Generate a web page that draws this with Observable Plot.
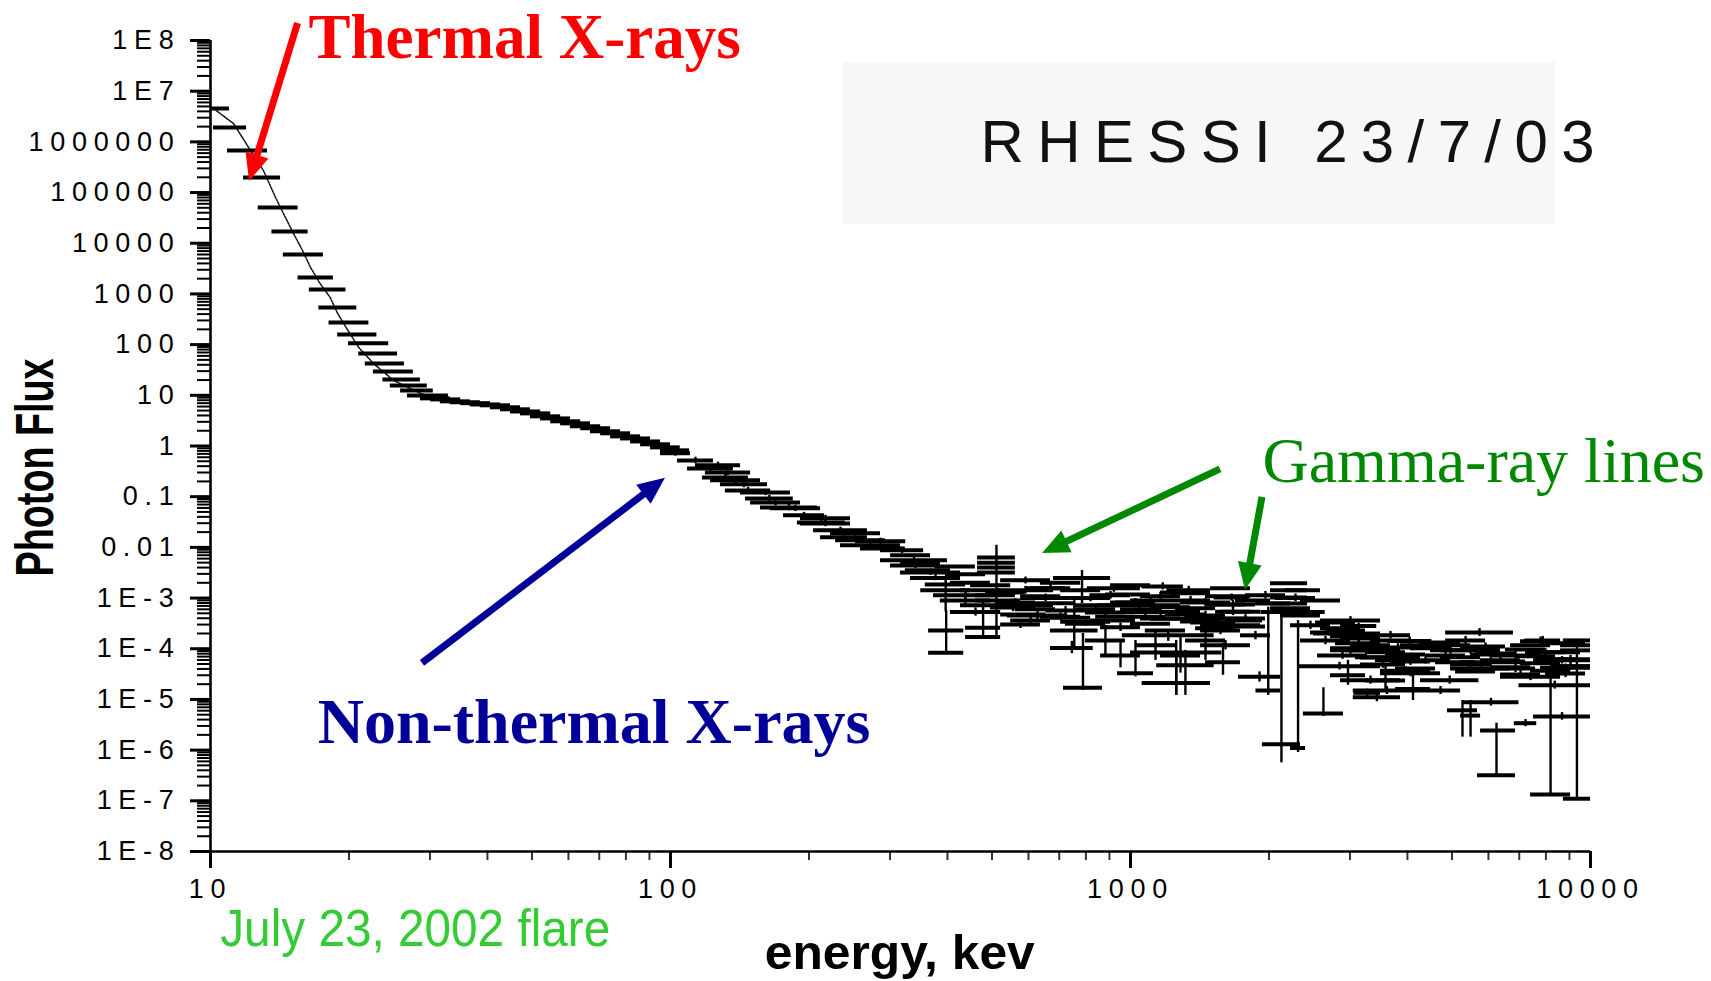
<!DOCTYPE html>
<html>
<head>
<meta charset="utf-8">
<script src="https://cdn.jsdelivr.net/npm/d3@7"></script>
<script src="https://cdn.jsdelivr.net/npm/@observablehq/plot@0.6"></script>
<style>
  html, body { margin: 0; padding: 0; background: #ffffff; }
  svg { display: block; }
</style>
</head>
<body>
<script>
// ---------------- DATA (energy in keV, photon flux) ----------------
// rows: [binLow, binHigh, flux, errLow, errHigh]
const thermalBins = [
  [10.0, 11.0, 4.56e6], [10.15, 11.98, 1.92e6], [10.89, 13.3, 6.76e5], [11.8, 14.2, 1.99e5],
  [12.7, 15.5, 5.08e4], [13.6, 16.3, 1.71e4], [14.4, 17.6, 6.0e3], [15.5, 18.5, 2.11e3],
  [16.4, 19.7, 1.23e3], [17.2, 20.8, 542], [18.1, 22.1, 274], [18.9, 23.0, 159],
  [19.95, 24.4, 106], [21.0, 25.5, 67], [21.7, 26.4, 42.6], [22.6, 27.6, 29.6],
  [23.7, 28.6, 20.6], [24.6, 29.6, 15.7], [25.9, 30.5, 12.5], [26.8, 32.9, 9.95]
];

const nonThermalBins = [
  [28.6, 33.2, 8.7], [30.1, 35.0, 8.3], [31.6, 36.7, 7.6], [33.2, 38.6, 7.3], [35.0, 40.6, 7.0],
  [36.7, 42.7, 6.6], [38.6, 44.9, 6.35], [40.6, 47.2, 5.8], [42.7, 49.6, 5.3], [44.9, 52.2, 4.8],
  [47.2, 54.9, 4.4], [49.6, 57.7, 3.85], [52.2, 60.6, 3.5], [54.9, 63.8, 3.07], [57.7, 67.0, 2.8],
  [60.6, 70.5, 2.45], [63.8, 74.1, 2.24], [67.0, 77.9, 1.95], [70.5, 81.9, 1.78], [74.1, 86.1, 1.55],
  [77.9, 90.5, 1.41], [81.9, 95.1, 1.23], [86.1, 100, 1.08], [90.5, 105, 0.94], [95.1, 110, 0.82],
  [95.1, 110.5, 0.72, 0.63, 0.83], [103.6, 124, 0.52, 0.45, 0.6], [108.9, 137, 0.36, 0.31, 0.41],
  [113.3, 142, 0.415, 0.36, 0.48], [117.4, 147.7, 0.24, 0.21, 0.28], [119.1, 149.3, 0.30, 0.26, 0.35],
  [122.2, 156.9, 0.21, 0.18, 0.24], [128.4, 162.5, 0.175, 0.15, 0.2], [131.6, 165, 0.133, 0.115, 0.153],
  [142, 182.3, 0.121, 0.105, 0.14], [145.6, 184.9, 0.092, 0.08, 0.106], [149.3, 191.7, 0.0764, 0.066, 0.088],
  [156.9, 208.7, 0.0615, 0.053, 0.071], [165, 211.9, 0.059, 0.051, 0.068], [176.1, 216.1, 0.0428, 0.037, 0.049],
  [188.8, 239.9, 0.031, 0.027, 0.036], [191.7, 246.2, 0.0375, 0.032, 0.043], [191.7, 246.2, 0.0296, 0.0256, 0.034],
  [204.6, 268, 0.0217, 0.019, 0.025], [211.9, 268, 0.0158, 0.0137, 0.018], [222.8, 286.1, 0.019, 0.0165, 0.022],
  [228.5, 293.4, 0.0138, 0.012, 0.016], [234.2, 316.2, 0.011, 0.0095, 0.0127], [252.5, 324.6, 0.0132, 0.0115, 0.0152],
  [258.8, 324, 0.0095, 0.0082, 0.011], [286.1, 355, 0.00875, 0.0076, 0.0101], [286.1, 400, 0.00555, 0.0048, 0.0064],
  [300.8, 386.4, 0.0044, 0.0038, 0.0051], [316.2, 427.1, 0.0032, 0.0028, 0.0037], [332.5, 427.1, 0.0025, 0.0022, 0.0029],
  [301, 367.5, 6.97e-3], [316, 386, 5.0e-3], [324, 406, 3.52e-3], [341, 427, 2.5e-3], [358, 438, 1.85e-3],
  [376, 460, 4.2e-3], [396, 484, 2.95e-3], [406, 496, 2.0e-3], [427, 522, 1.42e-3]
];

const continuumBins = [
  [364, 434, 2.3e-4, 8.3e-5, 5.7e-4], [364, 434, 8.3e-5], [350, 449, 1.42e-3, 5.3e-4, 2.5e-3],
  [373, 514, 1.13e-3, 9.5e-4, 1.35e-3], [386, 496, 9e-4, 7.5e-4, 1.1e-3], [406, 522, 5.3e-4, 4.4e-4, 6.4e-4],
  [427, 680, 7.2e-4, 6.0e-4, 8.6e-4], [438, 522, 2.6e-4, 1.7e-4, 9e-4], [438, 522, 1.7e-4],
  [465, 562, 0.0063], [465, 562, 0.005], [465, 562, 0.004, 1.68e-4, 0.011], [465, 562, 0.0032],
  [449, 549, 1.78e-3], [484, 591, 1.29e-3, 1.1e-3, 1.5e-3], [460, 577, 9.0e-4], [496, 622, 6.5e-4, 5.4e-4, 7.8e-4],
  [522, 654, 4.75e-4], [549, 670, 3.6e-4, 3.0e-4, 4.3e-4], [577, 705, 1.08e-3], [606, 741, 1.56e-3, 1.3e-3, 1.85e-3],
  [622, 760, 7.9e-4], [654, 798, 5.7e-4, 4.7e-4, 6.8e-4], [670, 819, 4.1e-4], [637, 779, 2.0e-3],
  [460, 562, 1.13e-3], [509, 622, 8.2e-4, 6.9e-4, 9.8e-4], [562, 687, 6.0e-4], [637, 779, 4.3e-4, 3.6e-4, 5.1e-4],
  [722, 883, 3.1e-4], [819, 1000, 1.13e-3, 9.5e-4, 1.35e-3], [905, 1105, 8.2e-4], [522, 637, 3.0e-4, 2.5e-4, 3.6e-4],
  [591, 722, 1.56e-3], [760, 928, 6.0e-4, 5.0e-4, 7.2e-4], [840, 1025, 4.3e-4],
  [514, 680, 1.42e-3, 1.2e-3, 1.7e-3], [522, 670, 2.24e-3, 1.9e-3, 2.6e-3], [540, 730, 4.55e-4, 3.6e-4, 5.7e-4],
  [577, 741, 1.0e-3, 8.5e-4, 1.2e-3], [670, 850, 2.3e-4, 1.04e-4, 9.0e-4], [670, 830, 1.04e-4, 8e-5, 1.4e-4],
  [680, 905, 2.5e-3, 7.8e-4, 3.5e-3], [705, 905, 3.4e-4, 2.8e-4, 4.2e-4], [715, 869, 1.7e-5, 1.5e-5, 2.0e-4],
  [705, 861, 1.42e-3], [741, 905, 1.0e-3, 8.5e-4, 1.2e-3], [760, 951, 7.2e-4], [798, 975, 5.2e-4, 4.3e-4, 6.2e-4],
  [819, 1025, 3.6e-4], [861, 1051, 2.65e-4, 2.2e-4, 3.2e-4], [883, 1105, 1.18e-3], [928, 1133, 8.2e-4, 6.8e-4, 9.8e-4],
  [951, 1162, 6.0e-4], [975, 1191, 4.3e-4, 3.6e-4, 5.2e-4], [1000, 1222, 3.1e-4], [905, 1105, 1.78e-3],
  [1051, 1284, 1.08e-3, 9.0e-4, 1.3e-3], [1077, 1317, 2.3e-4],
  [798, 975, 1.46e-4, 7.4e-5, 2.9e-4], [861, 1051, 7.4e-5, 4.2e-5, 1.5e-4],
  [1025, 1253, 1.17e-4, 5.9e-5, 2.3e-4], [1162, 1420, 7.4e-5, 3.3e-5, 1.84e-4],
  [1317, 1609, 1.46e-4, 5.9e-5, 2.9e-4], [1456, 1734, 5.4e-5, 3.0e-5, 1.28e-4],
  [806, 1051, 1.56e-3, 1.3e-3, 1.85e-3], [850, 1284, 7.2e-4, 6.0e-4, 8.6e-4], [937, 1122, 3.3e-5, 2.8e-5, 1.46e-4],
  [951, 1420, 5.3e-4, 4.4e-4, 6.4e-4], [960, 1520, 1.84e-4, 1.4e-4, 2.4e-4], [1000, 1580, 8.4e-5, 1.2e-5, 1.46e-4],
  [1060, 1303, 1.7e-3, 1.45e-3, 2.0e-3], [1060, 1493, 2.1e-5, 1.2e-5, 7.4e-5], [1105, 1800, 3.9e-4, 3.2e-4, 4.7e-4],
  [1140, 1520, 4.7e-5, 1.2e-5, 9.3e-5], [1200, 1493, 1.42e-3, 1.2e-3, 1.7e-3], [1284, 1650, 8.2e-4, 6.8e-4, 9.8e-4],
  [1420, 1917, 2.9e-4, 2.4e-4, 3.5e-4], [1420, 1823, 1.17e-4, 9.5e-5, 1.45e-4], [1520, 1810, 1.03e-3, 8.7e-4, 1.2e-3],
  [1162, 1420, 1.29e-3], [1222, 1493, 9.0e-4, 7.5e-4, 1.08e-3], [1253, 1531, 6.3e-4], [1317, 1609, 4.55e-4, 3.8e-4, 5.5e-4],
  [1350, 1692, 3.3e-4], [1420, 1734, 2.3e-4, 1.9e-4, 2.8e-4], [1456, 1823, 1.08e-3], [1493, 1869, 7.5e-4, 6.2e-4, 9.0e-4],
  [1569, 1917, 5.4e-4], [1609, 1965, 3.95e-4, 3.3e-4, 4.7e-4], [1650, 1965, 2.75e-4], [1493, 1823, 1.56e-3],
  [1692, 2015, 9.0e-4], [1734, 2015, 1.84e-4, 1.5e-4, 2.2e-4],
  [1000, 1222, 9.0e-4, 7.5e-4, 1.08e-3], [1105, 1350, 6.6e-4], [1191, 1456, 4.75e-4, 4.0e-4, 5.7e-4],
  [1284, 1569, 3.45e-4], [1385, 1692, 2.55e-4, 2.1e-4, 3.0e-4], [1051, 1284, 3.95e-4], [1456, 1778, 7.5e-4],
  [1531, 1823, 5.4e-4, 4.5e-4, 6.5e-4], [1222, 1493, 1.24e-3], [1609, 1935, 3.6e-4]
];

const gammaLineBins = [
  [1717, 2119, 2.8e-5, 2.2e-5, 3.5e-5], [1874, 2119, 1.5e-5, 1.2e-5, 6.6e-4], [1920, 2650, 5.3e-4, 4.4e-4, 6.4e-4],
  [1935, 2342, 1.3e-6, 5.6e-7, 6.6e-4], [2015, 2426, 1.95e-3], [2015, 2426, 1.42e-3], [2015, 2426, 1.03e-3],
  [2015, 2426, 7.8e-4], [2015, 2462, 6.3e-4], [2119, 2588, 4.55e-4], [2342, 2861, 9.0e-4],
  [1778, 2172, 1.13e-3, 9.5e-4, 1.35e-3], [1869, 2228, 7.8e-4], [2172, 2588, 1.42e-3], [2067, 2524, 1.0e-3, 8.5e-4, 1.2e-3],
  [2228, 2402, 1.1e-6, 9e-7, 3.6e-4], [2228, 2721, 2.9e-4, 2.4e-4, 3.5e-4],
  [2320, 3495, 4.5e-5, 3.8e-5, 5.4e-5], [2342, 3008, 1.46e-4, 1.2e-4, 1.75e-4], [2376, 2904, 5.3e-6, 4.6e-6, 1.7e-5],
  [2500, 3495, 2e-4, 1.7e-4, 2.4e-4], [2550, 3275, 7.4e-5, 6.2e-5, 8.8e-5], [2588, 3495, 3.6e-4, 3.0e-4, 4.3e-4],
  [2524, 3084, 3.3e-4], [2654, 3242, 2.3e-4, 1.9e-4, 2.7e-4], [2861, 3495, 1.6e-4], [3008, 3675, 1.17e-4, 9.8e-5, 1.4e-4],
  [3242, 3962, 8.5e-5], [2462, 3008, 2.1e-4, 1.75e-4, 2.5e-4], [3409, 4165, 5.9e-5], [2721, 3325, 9.3e-5, 7.8e-5, 1.1e-4],
  [3242, 3962, 2.37e-5, 1.5e-5, 4.7e-5], [3768, 4490, 1.6e-5, 9.5e-6, 3.0e-5], [2721, 3242, 3.0e-5, 1.9e-5, 5.9e-5],
  [2588, 3162, 2.55e-4], [2721, 3325, 1.76e-4, 1.5e-4, 2.1e-4], [2790, 3495, 1.28e-4], [2933, 3675, 9.3e-5, 7.8e-5, 1.1e-4],
  [3084, 3768, 6.8e-5], [3162, 3962, 4.9e-5, 4.1e-5, 5.8e-5], [3325, 4062, 1.46e-4], [3409, 4271, 1.06e-4, 8.9e-5, 1.26e-4],
  [3583, 4379, 7.7e-5], [3675, 4490, 5.6e-5, 4.7e-5, 6.7e-5], [3768, 4604, 4.1e-5], [3864, 4721, 1.17e-4, 9.8e-5, 1.4e-4],
  [2721, 3675, 1.02e-4, 8.6e-5, 1.2e-4], [2861, 3430, 2.8e-4, 1.05e-4, 3.2e-4], [2861, 3864, 2.4e-5, 2.0e-5, 2.9e-5],
  [3008, 3864, 9.3e-5, 7.8e-5, 1.1e-4], [3050, 4271, 1.5e-5, 1.25e-5, 1.8e-5], [3050, 3864, 1.1e-5, 9e-6, 1.3e-5],
  [3060, 3495, 1.35e-5, 1.1e-5, 1.6e-5], [3162, 4271, 6.7e-5, 5.6e-5, 8.0e-5], [3325, 4062, 1.84e-4, 1.55e-4, 2.2e-4],
  [3495, 4721, 3.3e-5, 2.8e-5, 3.9e-5], [3495, 4490, 3.7e-5, 3.1e-5, 4.4e-5], [3620, 4520, 1.43e-4, 1.2e-4, 1.7e-4],
  [3864, 4963, 5.9e-5, 5.0e-5, 7.0e-5], [4271, 5720, 2.4e-5, 2.0e-5, 2.9e-5], [4271, 5486, 1.17e-4, 9.8e-5, 1.4e-4],
  [4271, 5218, 1.5e-5, 1.25e-5, 1.8e-5], [4721, 6375, 9.3e-5, 7.8e-5, 1.1e-4], [4842, 6800, 2.1e-4, 1.75e-4, 2.5e-4],
  [4062, 4963, 1.02e-4], [4379, 5350, 7.4e-5, 6.2e-5, 8.8e-5], [4604, 5624, 5.4e-5], [4842, 5914, 1.46e-4, 1.2e-4, 1.75e-4],
  [5218, 6375, 1.06e-4], [5486, 6702, 7.7e-5, 6.5e-5, 9.2e-5], [5914, 7224, 5.6e-5], [6217, 7596, 4.1e-5, 3.4e-5, 4.9e-5],
  [6702, 8188, 1.17e-4], [7224, 8827, 8.5e-5, 7.1e-5, 1.0e-4], [7596, 9280, 6.2e-5], [8188, 10000, 4.5e-5, 3.8e-5, 5.4e-5],
  [8609, 10000, 9.3e-5], [7985, 9753, 1.28e-4, 1.07e-4, 1.5e-4],
  [4271, 5218, 1.33e-4], [4490, 5486, 9.3e-5, 7.8e-5, 1.1e-4], [4721, 5768, 6.8e-5], [4963, 6064, 4.9e-5, 4.1e-5, 5.8e-5],
  [5089, 6217, 3.55e-5], [5350, 6535, 1.11e-4, 9.3e-5, 1.3e-4], [5624, 6871, 8.1e-5], [5768, 7046, 5.9e-5, 5.0e-5, 7.0e-5],
  [6064, 7408, 4.3e-5], [6375, 7788, 3.1e-5, 2.6e-5, 3.7e-5], [6535, 7985, 9.7e-5], [6871, 8395, 7.1e-5, 6.0e-5, 8.5e-5],
  [7046, 8609, 5.2e-5], [7408, 9051, 3.7e-5, 3.1e-5, 4.4e-5], [7788, 9512, 8.5e-5], [8188, 10000, 6.2e-5, 5.2e-5, 7.4e-5],
  [8395, 10000, 4.5e-5], [8609, 10000, 1.17e-4], [7985, 9753, 3.25e-5, 2.7e-5, 3.9e-5],
  [4887, 5680, 6.1e-6, 1.8e-6, 9.5e-6], [4963, 6702, 4.1e-5, 3.4e-5, 4.9e-5], [5218, 7046, 5.4e-5, 4.5e-5, 6.4e-5],
  [5218, 5768, 4.8e-6, 1.8e-6, 9.5e-6], [5280, 6990, 8.8e-6, 7.4e-6, 1.05e-5], [5680, 6870, 3.2e-7, 3.2e-7, 3.4e-6],
  [5768, 6870, 2.45e-6], [6064, 7788, 7.4e-5, 6.2e-5, 8.8e-5], [6375, 8609, 2.8e-5, 2.35e-5, 3.3e-5],
  [6830, 7640, 3.4e-6, 2.9e-6, 4.0e-6], [6990, 10000, 1.9e-5, 1.6e-5, 2.3e-5], [7046, 8609, 1.4e-4, 1.15e-4, 1.7e-4],
  [7200, 8609, 1.46e-4, 1.2e-4, 1.75e-4], [7408, 9051, 1.33e-7, 1.33e-7, 4.2e-5], [7520, 10000, 5.9e-5, 5.0e-5, 7.0e-5],
  [7520, 10000, 4.6e-6, 3.9e-6, 5.5e-6], [7788, 10000, 4.2e-5, 3.5e-5, 5.0e-5], [8730, 10000, 1.46e-4],
  [8730, 10000, 1.1e-7, 1.1e-7, 1.46e-4]
];

// thermal model curve drawn through the low-energy points
const fitEnergy = [10.15, 11.22, 12.1, 13.04, 13.85, 14.4, 15.15, 15.85, 16.5, 17.3, 18.2, 18.9, 19.9, 21.0, 22.6, 25.0, 28.6, 33.2];
const fitFlux   = [4.56e6, 2.3e6, 7.8e5, 2.7e5, 8.0e4, 3.9e4, 1.56e4, 7.2e3, 3.33e3, 1.61e3, 853, 412, 190, 88, 42.6, 19.7, 10.9, 7.2];

// axes
const xTicks = [10, 100, 1000, 10000];
const xTickLabels = ["10", "100", "1000", "10000"];
const yTicks = [1e8, 1e7, 1e6, 1e5, 1e4, 1e3, 100, 10, 1, 0.1, 0.01, 1e-3, 1e-4, 1e-5, 1e-6, 1e-7, 1e-8];
const yTickLabels = ["1E8", "1E7", "1000000", "100000", "10000", "1000", "100", "10", "1", "0.1", "0.01",
                     "1E-3", "1E-4", "1E-5", "1E-6", "1E-7", "1E-8"];

// annotations (anchors in data units: keV, flux)
const titleBox = {e1: 238, e2: 8390, f1: 2.35e4, f2: 3.68e7};
const titleText = {text: "RHESSI 23/7/03", e: 472, f: 4.1e5};
const thermalNote = {text: "Thermal X-rays", e: 16.33, f: 4.6e7};
const nonThermalNote = {text: "Non-thermal X-rays", e: 17.1, f: 1.36e-6};
const gammaNote = {text: "Gamma-ray lines", e: 1936, f: 0.191};
const flareNote = {text: "July 23, 2002 flare", e: 10.5, f: 1.35e-10};
const yTitle = {text: "Photon Flux", e: 4.17, f: 0.378};
const xTitle = {text: "energy, kev", e: 315, f: 4.8e-11};
const arrows = [
  {e1: 15.5, f1: 2.16e8, e2: 12.16, f2: 1.66e5, color: "#ff0000"},
  {e1: 28.9, f1: 5.15e-5, e2: 97.5, f2: 0.23, color: "#000099"},
  {e1: 1569, f1: 0.345, e2: 644, f2: 7.6e-3, color: "#008800"},
  {e1: 1936, f1: 0.097, e2: 1778, f2: 1.42e-3, color: "#008800"}
];

// ---------------- BUILD ----------------
const bins = [...thermalBins, ...nonThermalBins, ...continuumBins, ...gammaLineBins]
  .map(([lo, hi, flux, fLo, fHi]) => ({lo, hi, flux, fLo, fHi}));
const errBars = bins.filter(d => d.fLo != null);
const fit = fitEnergy.map((e, i) => ({e, f: fitFlux[i]}));
const xLabel = new Map(xTicks.map((t, i) => [t, xTickLabels[i]]));
const yLabel = new Map(yTicks.map((t, i) => [t, yTickLabels[i]]));

const serif = "'Liberation Serif', 'Times New Roman', serif";
const sans = "'Liberation Sans', Arial, Helvetica, sans-serif";

const chart = Plot.plot({
  width: 1711,
  height: 981,
  marginLeft: 210,
  marginRight: 121,
  marginTop: 40,
  marginBottom: 130,
  x: {type: "log", domain: [10, 10000]},
  y: {type: "log", domain: [1e-8, 1e8]},
  style: {background: "#ffffff", fontFamily: sans, overflow: "visible", color: "#000"},
  marks: [
    Plot.rect([titleBox], {x1: "e1", x2: "e2", y1: "f1", y2: "f2", fill: "#f8f6f6"}),
    // minor ticks
    Plot.axisY({ticks: 40, tickSize: 13, tickFormat: () => "", strokeWidth: 2, label: null}),
    Plot.axisX({ticks: 40, tickSize: 9, tickFormat: () => "", strokeWidth: 2, stroke: "#333", label: null}),
    // major ticks + labels
    Plot.axisY({ticks: yTicks, tickSize: 20, tickPadding: 10, tickFormat: d => yLabel.get(d),
                strokeWidth: 3, fontSize: 27, label: null}),
    Plot.axisX({ticks: xTicks, tickSize: 17, tickPadding: 10, tickFormat: d => xLabel.get(d),
                strokeWidth: 3, fontSize: 27, label: null}),
    Plot.ruleX([10], {strokeWidth: 2.6}),
    Plot.ruleY([1e-8], {strokeWidth: 2.6}),
    // model curve
    Plot.line(fit, {x: "e", y: "f", stroke: "#111", strokeWidth: 1.5, strokeDasharray: "2,1.2"}),
    // data: energy bins (horizontal) and flux errors (vertical)
    Plot.ruleY(bins, {y: "flux", x1: "lo", x2: "hi", stroke: "#000", strokeWidth: 4}),
    Plot.ruleX(errBars, {x: d => Math.sqrt(d.lo * d.hi), y1: "fLo", y2: "fHi", stroke: "#000", strokeWidth: 2.4}),
    // texts
    Plot.text([titleText], {x: "e", y: "f", text: "text", fill: "#111", fontFamily: sans, fontSize: 60,
                textAnchor: "start", lineAnchor: "bottom"}),
    Plot.text([thermalNote], {x: "e", y: "f", text: "text", fill: "#ff0000", fontFamily: serif, fontWeight: "bold",
                fontSize: 63, textAnchor: "start", lineAnchor: "bottom"}),
    Plot.text([nonThermalNote], {x: "e", y: "f", text: "text", fill: "#000099", fontFamily: serif, fontWeight: "bold",
                fontSize: 64, textAnchor: "start", lineAnchor: "bottom"}),
    Plot.text([gammaNote], {x: "e", y: "f", text: "text", fill: "#008800", fontFamily: serif,
                fontSize: 64, textAnchor: "start", lineAnchor: "bottom"}),
    Plot.text([flareNote], {x: "e", y: "f", text: "text", fill: "#33cc33", fontFamily: sans,
                fontSize: 52, textAnchor: "start", lineAnchor: "bottom"}),
    Plot.text([yTitle], {x: "e", y: "f", text: "text", fill: "#000", fontFamily: sans, fontWeight: "bold",
                fontSize: 54, rotate: -90, textAnchor: "middle", lineAnchor: "middle"}),
    Plot.text([xTitle], {x: "e", y: "f", text: "text", fill: "#000", fontFamily: sans, fontWeight: "bold",
                fontSize: 48, textAnchor: "middle", lineAnchor: "bottom"})
  ]
});

// arrows drawn with the chart's own scales
const sx = chart.scale("x"), sy = chart.scale("y");
const svg = d3.select(chart);
const ag = svg.append("g").attr("aria-label", "annotation arrows");
const shaftWidth = 7, headLength = 27, headHalfWidth = 12;
arrows.forEach(a => {
  const x1 = sx.apply(a.e1), y1 = sy.apply(a.f1), x2 = sx.apply(a.e2), y2 = sy.apply(a.f2);
  const dx = x2 - x1, dy = y2 - y1, L = Math.hypot(dx, dy), ux = dx / L, uy = dy / L;
  const bx = x2 - ux * headLength, by = y2 - uy * headLength;
  ag.append("line").attr("x1", x1).attr("y1", y1).attr("x2", bx + ux * 3).attr("y2", by + uy * 3)
    .attr("stroke", a.color).attr("stroke-width", shaftWidth);
  ag.append("path")
    .attr("d", `M${x2},${y2}L${bx - uy * headHalfWidth},${by + ux * headHalfWidth}L${bx + uy * headHalfWidth},${by - ux * headHalfWidth}Z`)
    .attr("fill", a.color);
});

// text fitting: the original uses widely spaced / condensed faces
svg.selectAll('g[aria-label="y-axis tick label"] text, g[aria-label="x-axis tick label"] text')
  .style("letter-spacing", "6.7px");
const fitText = (label, length, adjust) =>
  svg.selectAll("text").filter(function() { return this.textContent === label; })
    .attr("textLength", length).attr("lengthAdjust", adjust);
fitText(titleText.text, 614, "spacing");
fitText(yTitle.text, 218, "spacingAndGlyphs");
fitText(flareNote.text, 390, "spacingAndGlyphs");
fitText(xTitle.text, 270, "spacingAndGlyphs");

document.body.appendChild(chart);
</script>
</body>
</html>
